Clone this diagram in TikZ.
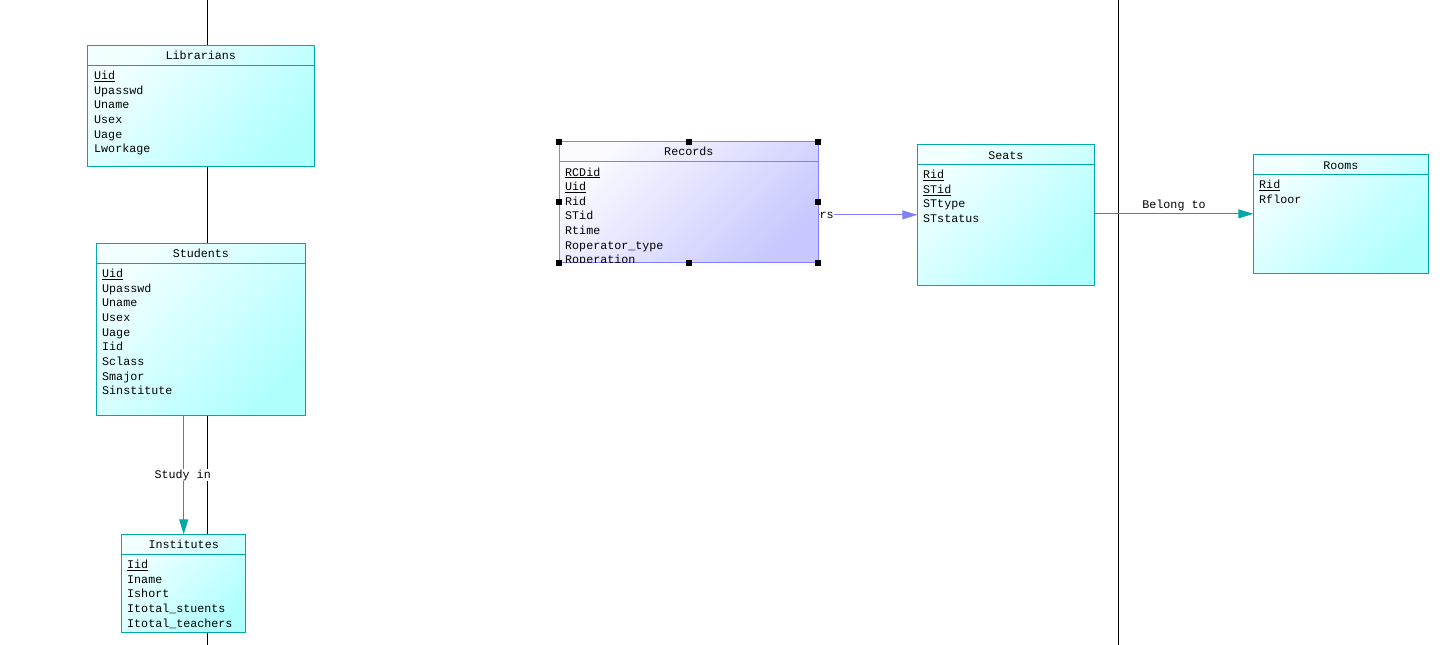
\documentclass[tikz,border=0pt]{standalone}
\usepackage{fontspec}
\setmonofont{Liberation Mono}
\usetikzlibrary{arrows.meta,calc}

\definecolor{tealline}{RGB}{0,168,168}
\definecolor{cyanlo}{RGB}{242,255,255}
\definecolor{cyanhi}{RGB}{176,255,255}
\definecolor{lavline}{RGB}{128,128,255}
\definecolor{lavlo}{RGB}{250,250,255}
\definecolor{lavhi}{RGB}{200,200,255}

% attribute rows of an entity: name prefix, x, first baseline, list
\newcommand\entrows[4]{%
  \foreach \t [count=\i] in {#4}{%
    \node[row] (#1-\i) at (#2,{#3+14.65*(\i-1)}) {\t};}}

\begin{document}
\begin{tikzpicture}[x=1pt,y=-1pt,
  every node/.style={font=\ttfamily\fontsize{11.7}{14}\selectfont},
  entity/.style={draw=tealline, line width=0.9pt, inner sep=0pt, outer sep=0pt,
    anchor=north west, top color=cyanlo, bottom color=cyanhi, shading angle=45},
  recentity/.style={entity, draw=lavline, top color=lavlo, bottom color=lavhi, shading angle=45},
  hdr/.style={draw=tealline, line width=0.9pt},
  rechdr/.style={draw=lavline, line width=0.9pt},
  title/.style={anchor=base, inner sep=0pt},
  row/.style={anchor=base west, inner sep=0pt},
  guide/.style={draw=black, line width=1.2pt},
  tealarrow/.style={draw=tealline, line width=0.9pt, -{Triangle[length=15pt,width=9pt]}},
  lavarrow/.style={draw=lavline, line width=0.9pt, -{Triangle[length=15pt,width=9pt]}},
  handle/.style={fill=black, draw=none, minimum size=6pt, inner sep=0pt},
  rlabel/.style={inner sep=1pt},
]
\useasboundingbox (0,0) rectangle (1452,645);

% long vertical guide lines running behind the tables
\coordinate (gA1) at (207.3,0);
\coordinate (gA2) at (207.3,645);
\coordinate (gB1) at (1118.3,0);
\coordinate (gB2) at (1118.3,645);
\draw[guide] (gA1) -- (gA2);
\draw[guide] (gB1) -- (gB2);

% tables
\node[entity, minimum width=227pt, minimum height=120.7pt] (lib) at (87.3,45.3) {};
\node[entity, minimum width=209.7pt, minimum height=171.7pt] (stu) at (96,243.3) {};
\node[entity, minimum width=124pt, minimum height=98pt] (inst) at (121.7,534.3) {};
\node[recentity, minimum width=259pt, minimum height=121pt] (rec) at (559.3,141.5) {};
\node[entity, minimum width=177pt, minimum height=140.3pt] (seat) at (917.3,144.7) {};
\node[entity, minimum width=175pt, minimum height=118.3pt] (room) at (1253.3,154.7) {};

% header separators
\draw[hdr] ($(lib.north west)+(0,20.4)$) -- ($(lib.north east)+(0,20.4)$);
\draw[hdr] ($(stu.north west)+(0,20)$) -- ($(stu.north east)+(0,20)$);
\draw[hdr] ($(inst.north west)+(0,20)$) -- ($(inst.north east)+(0,20)$);
\draw[rechdr] ($(rec.north west)+(0,20.2)$) -- ($(rec.north east)+(0,20.2)$);
\draw[hdr] ($(seat.north west)+(0,19.6)$) -- ($(seat.north east)+(0,19.6)$);
\draw[hdr] ($(room.north west)+(0,19.6)$) -- ($(room.north east)+(0,19.6)$);

% titles
\node[title] (lib-t) at ($(lib.north)+(0,14.3)$) {Librarians};
\node[title] (stu-t) at ($(stu.north)+(0,14.3)$) {Students};
\node[title] (inst-t) at ($(inst.north)+(0,14.3)$) {Institutes};
\node[title] (rec-t) at ($(rec.north)+(0,14.3)$) {Records};
\node[title] (seat-t) at ($(seat.north)+(0,14.3)$) {Seats};
\node[title] (room-t) at ($(room.north)+(0,14.3)$) {Rooms};

% attributes
\entrows{lib}{94}{79.6}{\underline{Uid},Upasswd,Uname,Usex,Uage,Lworkage}
\entrows{stu}{102}{277.6}{\underline{Uid},Upasswd,Uname,Usex,Uage,Iid,Sclass,Smajor,Sinstitute}
\entrows{inst}{127}{568.6}{\underline{Iid},Iname,Ishort,Itotal\_stuents,Itotal\_teachers}
\entrows{seat}{923}{178.6}{\underline{Rid},\underline{STid},STtype,STstatus}
\entrows{room}{1259}{188.6}{\underline{Rid},Rfloor}
\begin{scope}
  \clip (rec.north west) rectangle (rec.south east);
  \entrows{rec}{565}{176}{\underline{RCDid},\underline{Uid},Rid,STid,Rtime,Roperator\_type,Roperation}
\end{scope}

% selection handles around Records
\foreach \a [count=\k] in {north west,north,north east,west,east,south west,south,south east}
  \node[handle] (h\k) at (rec.\a) {};

% relationships
\draw[tealarrow] (stu.south -| inst.north) -- (inst.north);
\node[rlabel, fill=white, anchor=base] (studyin) at (182.7,478) {Study in};

\draw[tealarrow] (seat.east |- room.west) -- (room.west);
\node[rlabel, anchor=base] (belong) at (1174,208) {Belong to};

\coordinate (rsStart) at (rec.east |- seat.west);
\draw[lavarrow] (rsStart) -- (seat.west);
\node[inner sep=0pt, fill=white, anchor=base west] (rsl) at (819.3,218) {rs};
\end{tikzpicture}
\end{document}
